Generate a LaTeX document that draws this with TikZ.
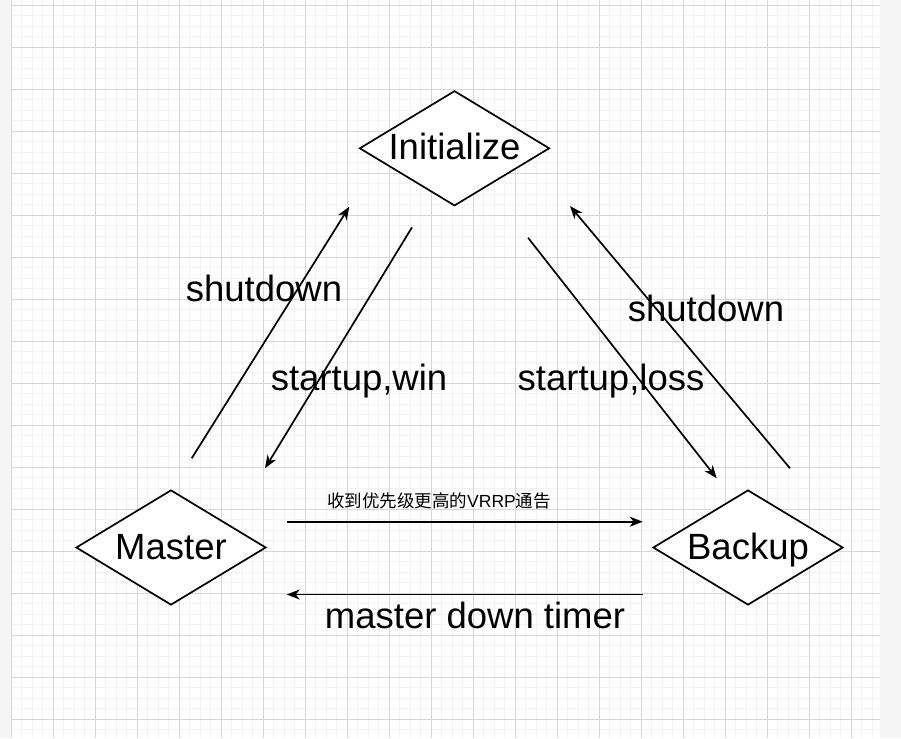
\documentclass[tikz,border=0pt]{standalone}
\usepackage{fontspec}
\setmainfont{Liberation Sans}
\newfontfamily\cjk{Noto Sans CJK SC}
\usetikzlibrary{shapes.geometric, arrows.meta}

\tikzset{
  statebox/.style={diamond, draw, fill=white, line width=1.7pt, inner sep=0pt,
    minimum width=190pt, minimum height=115pt, aspect=1.65,
    font=\fontsize{36.5}{40}\selectfont, text height=23.4pt, text depth=0pt},
  lbl/.style={anchor=base, inner sep=0pt, font=\fontsize{36.5}{40}\selectfont},
  trans/.style={->, line width=1.7pt},
  minorline/.style={draw=black!5, line width=0.9pt},
  majorline/.style={draw=black!16, line width=1.1pt},
}

\begin{document}
\begin{tikzpicture}[x=1pt, y=-1pt, >={Stealth[length=13pt, width=10pt, inset=4pt]}]
        \useasboundingbox (0,0) rectangle (901,738);
        % Page and grid
        \fill[white] (0,0) rectangle (901,738);
        \fill[black!4] (0,0) rectangle (12,738);
        \fill[black!4] (880,0) rectangle (901,738);
        \foreach \i in {0,...,82}
            \draw[minorline] ({11.3+10.5*\i},0) -- ({11.3+10.5*\i},738);
        \foreach \j in {0,...,69}
            \draw[minorline] (12,{5.3+10.5*\j}) -- (880,{5.3+10.5*\j});
        \foreach \i in {0,...,20}
            \draw[majorline] ({11.3+42*\i},0) -- ({11.3+42*\i},738);
        \foreach \j in {0,...,17}
            \draw[majorline] (12,{5.3+42*\j}) -- (880,{5.3+42*\j});

        % States
        \node[statebox] (init) at (454.5,148.3) {Initialize};
        \node[statebox] (master) at (171,547.5) {Master};
        \node[statebox] (backup) at (748,547.5) {Backup};

        % Free ends of the transitions
        \coordinate (mUp) at (191.7,458.3);
        \coordinate (iLeftIn) at (349.3,206.7);
        \coordinate (iLeftOut) at (412,227.3);
        \coordinate (mIn) at (265,468.3);
        \coordinate (iRightOut) at (528,237.7);
        \coordinate (bIn) at (716.7,478.3);
        \coordinate (bUp) at (790,468.3);
        \coordinate (iRightIn) at (570,206);
        \coordinate (mRight) at (286.7,521.7);
        \coordinate (bLeft) at (642.7,521.7);
        \coordinate (bLow) at (643,594.5);
        \coordinate (mLow) at (286.7,594.5);

        % Transitions
        \draw[trans] (mUp) -- (iLeftIn);
        \draw[trans] (iLeftOut) -- (mIn);
        \draw[trans] (iRightOut) -- (bIn);
        \draw[trans] (bUp) -- (iRightIn);
        \draw[trans] (mRight) -- (bLeft);
        \draw[trans] (bLow) -- (mLow);

        % Labels
        \node[lbl] (shutM) at (264,301.7) {shutdown};
        \node[lbl] (startWin) at (359,390) {startup,win};
        \node[lbl] (startLoss) at (611,390) {startup,loss};
        \node[lbl] (shutB) at (706,321.7) {shutdown};
        \node[lbl, font=\fontsize{17.5}{20}\selectfont] (preempt) at (439,507)
            {{\cjk 收到优先级更高的}VRRP{\cjk 通告}};
        \node[lbl] (timer) at (475,628) {master down timer};
    \end{tikzpicture}
\end{document}
